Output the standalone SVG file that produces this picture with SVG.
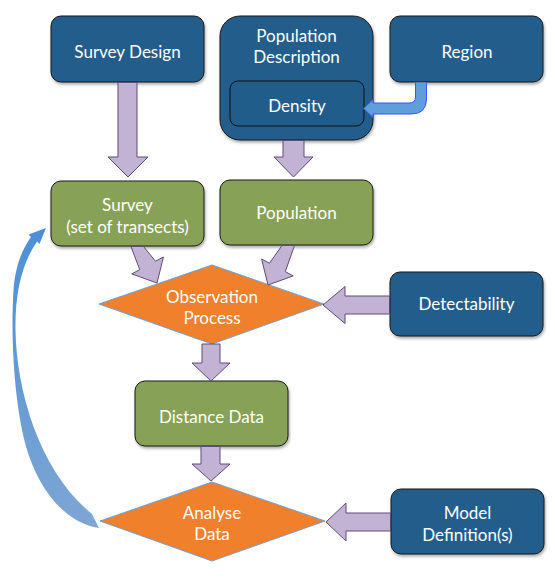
<svg xmlns="http://www.w3.org/2000/svg" width="555" height="582" viewBox="0 0 555 582">
<defs>
<filter id="sh" x="-10%" y="-10%" width="130%" height="140%">
<feDropShadow dx="1" dy="2" stdDeviation="1.5" flood-color="#000" flood-opacity="0.35"/>
</filter>
<linearGradient id="cg" x1="0" y1="0" x2="0" y2="1">
<stop offset="0" stop-color="#4a90d6"/>
<stop offset="1" stop-color="#7ea6d4"/>
</linearGradient>
</defs>
<style>
.blue{fill:#215d8b;stroke:#1a1a1a;stroke-width:1}
.green{fill:#87a257;stroke:#1a1a1a;stroke-width:1}
.orange{fill:#f0802b;stroke:#6fa0d4;stroke-width:1}
.arr{fill:#c2b3d4;stroke:#5f4b7a;stroke-width:1;stroke-linejoin:miter}
.t{font-family:Lato,"Open Sans",sans-serif;font-size:17px;fill:#ffffff;text-anchor:middle}
</style>
<rect width="555" height="582" fill="#ffffff"/>
<g id="survey-design">
<rect class="blue" x="51" y="16" width="153" height="66" rx="10" filter="url(#sh)"/>
<text class="t" x="127.5" y="58">Survey Design</text>
</g>
<g id="population-description">
<rect class="blue" x="220" y="16" width="153" height="124" rx="20" filter="url(#sh)"/>
<text class="t" x="296.5" y="42">Population</text>
<text class="t" x="296.5" y="63">Description</text>
</g>
<g id="density">
<rect x="230" y="81" width="134" height="45" rx="8" fill="#215d8b" stroke="#111" stroke-width="1"/>
<text class="t" x="297" y="112">Density</text>
</g>
<g id="region">
<rect class="blue" x="390" y="16" width="153" height="66" rx="10" filter="url(#sh)"/>
<text class="t" x="467" y="58">Region</text>
</g>
<g id="survey">
<rect class="green" x="51" y="181" width="153" height="65" rx="10" filter="url(#sh)"/>
<text class="t" x="127.5" y="211">Survey</text>
<text class="t" x="127.5" y="233">(set of transects)</text>
</g>
<g id="population">
<rect class="green" x="220" y="180" width="153" height="65" rx="10" filter="url(#sh)"/>
<text class="t" x="296.5" y="219">Population</text>
</g>
<g id="observation-process">
<polygon class="orange" points="99,304 212,265 324,304 212,344"/>
<text class="t" x="212" y="303">Observation</text>
<text class="t" x="212" y="324">Process</text>
</g>
<g id="detectability">
<rect class="blue" x="390" y="272" width="153" height="64" rx="10" filter="url(#sh)"/>
<text class="t" x="466.5" y="310">Detectability</text>
</g>
<g id="distance-data">
<rect class="green" x="135" y="381" width="153" height="65" rx="10" filter="url(#sh)"/>
<text class="t" x="211.5" y="423">Distance Data</text>
</g>
<g id="analyse-data">
<polygon class="orange" points="100,521 212,482 325,521 212,561"/>
<text class="t" x="212" y="519">Analyse</text>
<text class="t" x="212" y="540">Data</text>
</g>
<g id="model-definitions">
<rect class="blue" x="391" y="489" width="153" height="65" rx="10" filter="url(#sh)"/>
<text class="t" x="467.5" y="519">Model</text>
<text class="t" x="467.5" y="541">Definition(s)</text>
</g>
<g id="connectors">
<polygon class="arr" points="118,82.5 137,82.5 137,157 148,157 128,177 108,157 118,157"/>
<polygon class="arr" points="283,140.5 304,140.5 304,157 313,157 293.5,177 274,157 283,157"/>
<polygon class="arr" points="143.5,246.5 155.5,261.2 163.4,257 157,283 131.8,273.9 139.7,269.6 131,246.5"/>
<polygon class="arr" points="282,245.5 269.5,263.2 261.6,259 268,285 293.2,275.9 285.3,271.6 294.5,245.5"/>
<polygon class="arr" points="202,344 220,344 220,363 230,363 211,381 192,363 202,363"/>
<polygon class="arr" points="201,446.5 220,446.5 220,464 230,464 211,481 192,464 201,464"/>
<polygon class="arr" points="389.5,296 345,296 345,286.5 323,305 345,323.5 345,314 389.5,314"/>
<polygon class="arr" points="390.5,513 346,513 346,503 326,522 346,541 346,531 390.5,531"/>
<path d="M415.5,82.5 V97 Q415.5,103 409,103 H373 V99.5 L363.5,108.5 L373,117.5 V114 H411 Q426.5,114 426.5,99 V82.5" fill="#5f9edb" stroke="#3a55f5" stroke-width="1"/>
<path d="M46,228 L39.5,244 L37,241.5 C23,262 15,290 15.5,330 C16.5,392 40,472 92,514 L99,528 C60,522 32,480 22,430 C13,385 11,330 13.5,290 C15.5,265 22,250 31,237 L28.5,234.5 Z" fill="url(#cg)"/>
</g>
</svg>
